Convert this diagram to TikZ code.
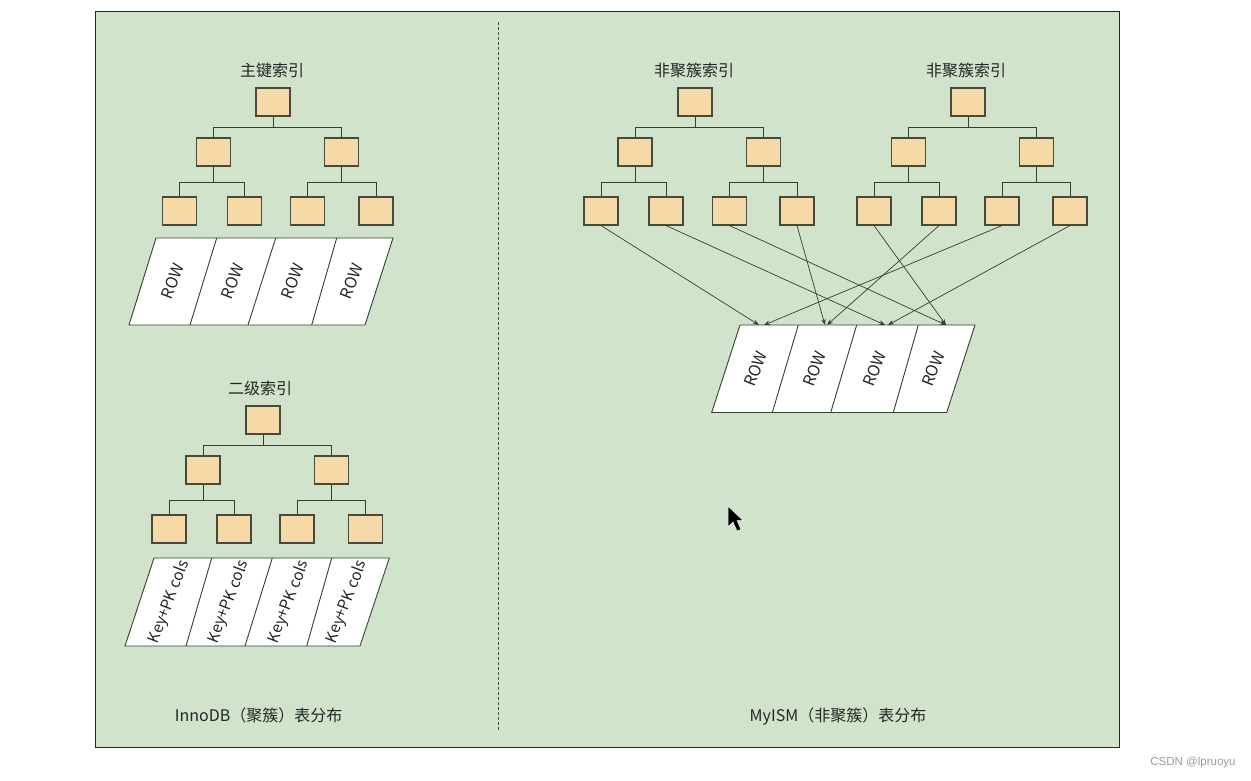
\documentclass[tikz,border=0pt]{standalone}
\usepackage{fontspec}
\newfontfamily\cjk{Noto Sans CJK SC}
\newfontfamily\wmfont{Liberation Sans}
\usetikzlibrary{arrows.meta}
\definecolor{bggreen}{HTML}{D1E3CA}
\definecolor{boxfill}{HTML}{F5DAA8}
\definecolor{boxline}{HTML}{4A4A3C}
\definecolor{lnk}{HTML}{33402F}
\definecolor{wmgray}{HTML}{9A9A9A}
\tikzset{
  bx/.style={draw=boxline, fill=boxfill, line width=1.1pt, minimum width=34pt, minimum height=28pt, inner sep=0pt},
  conn/.style={draw=lnk, line width=0.9pt},
  arr/.style={draw=lnk, line width=0.7pt, -{Stealth[length=6pt,width=4.5pt]}},
  cellline/.style={draw=lnk, fill=white, line width=0.9pt},
  ttl/.style={font=\cjk\fontsize{16}{18}\selectfont, text=black!85},
  rowtxt/.style={font=\cjk\fontsize{16}{18}\selectfont, rotate=69, text=black!85},
  keytxt/.style={font=\cjk\fontsize{15.5}{18}\selectfont, rotate=69, text=black!85},
  lbl/.style={font=\cjk\fontsize{16}{18}\selectfont, text=black!85},
  wm/.style={font=\wmfont\fontsize{11.5}{13}\selectfont, text=wmgray}
}
% #1 prefix, #2 root x, #3 root y, #4 #5 level-2 x, #6-#9 leaf x
\newcommand\mybptree[9]{%
  \node[bx] (#1r) at (#2,#3) {};
  \node[bx] (#1a) at (#4,#3+50) {};
  \node[bx] (#1b) at (#5,#3+50) {};
  \node[bx] (#1l1) at (#6,#3+109) {};
  \node[bx] (#1l2) at (#7,#3+109) {};
  \node[bx] (#1l3) at (#8,#3+109) {};
  \node[bx] (#1l4) at (#9,#3+109) {};
  \draw[conn] (#1r.south) -- (#2,#3+25) -| (#1a.north);
  \draw[conn] (#2,#3+25) -| (#1b.north);
  \draw[conn] (#1a.south) -- (#4,#3+80) -| (#1l1.north);
  \draw[conn] (#4,#3+80) -| (#1l2.north);
  \draw[conn] (#1b.south) -- (#5,#3+80) -| (#1l3.north);
  \draw[conn] (#5,#3+80) -| (#1l4.north);
}
\begin{document}
\begin{tikzpicture}[x=1pt,y=-1pt]
\useasboundingbox (0,0) rectangle (1251,780);
\fill[white] (0,0) rectangle (1251,780);
% frame
\draw[fill=bggreen, draw=black!85, line width=1pt] (95.5,11) rectangle (1119,747);
\draw[draw=black!70, line width=0.8pt, dash pattern=on 3pt off 2pt] (498,22) -- (498,731);

% ---------------- left: InnoDB ----------------
\node[ttl] (t1) at (272,70) {主键索引};
\mybptree{p}{273}{102}{213.5}{341.5}{179.5}{244.8}{307.5}{376}
\path[cellline] (156,238) -- (393,238) -- (365,325) -- (129,325) -- cycle;
\draw[conn] (216.7,238) -- (190,325);
\draw[conn] (275.7,238) -- (248,325);
\draw[conn] (336.7,238) -- (311.7,325);
\node[rowtxt] (pr1) at (172.9,281.5) {ROW};
\node[rowtxt] (pr2) at (232.6,281.5) {ROW};
\node[rowtxt] (pr3) at (292.9,281.5) {ROW};
\node[rowtxt] (pr4) at (351.6,281.5) {ROW};

\node[ttl] (t2) at (260,388) {二级索引};
\mybptree{s}{263}{420}{203}{331.5}{169}{234}{297}{365.3}
\path[cellline] (154,558) -- (389.3,558) -- (360,646) -- (125,646) -- cycle;
\draw[conn] (211.7,558) -- (186,646);
\draw[conn] (272.3,558) -- (245,646);
\draw[conn] (331.7,558) -- (306.7,646);
\node[keytxt] (sk1) at (169.2,602) {Key+PK cols};
\node[keytxt] (sk2) at (228.75,602) {Key+PK cols};
\node[keytxt] (sk3) at (288.9,602) {Key+PK cols};
\node[keytxt] (sk4) at (346.9,602) {Key+PK cols};

\node[lbl] (linno) at (258.7,715) {InnoDB（聚簇）表分布};

% ---------------- right: MyISM ----------------
\node[ttl] (t3) at (694,70) {非聚簇索引};
\node[ttl] (t4) at (966,70) {非聚簇索引};
\mybptree{m}{695}{102}{635}{763.5}{601}{666}{729.5}{797}
\mybptree{n}{968}{102}{908.4}{1036.3}{874}{939}{1002}{1070}

\path[cellline] (740,325) -- (975,325) -- (946.7,412.5) -- (711.7,412.5) -- cycle;
\draw[conn] (798.3,325) -- (772.3,412.5);
\draw[conn] (856.7,325) -- (830.7,412.5);
\draw[conn] (918.3,325) -- (893.3,412.5);
\node[rowtxt] (mr1) at (755.6,368.75) {ROW};
\node[rowtxt] (mr2) at (814.5,368.75) {ROW};
\node[rowtxt] (mr3) at (874.75,368.75) {ROW};
\node[rowtxt] (mr4) at (933.3,368.75) {ROW};

\coordinate (e1a) at (759,325);
\coordinate (e1b) at (764,325);
\coordinate (e2a) at (825,325);
\coordinate (e2b) at (827,325);
\coordinate (e3a) at (885,325);
\coordinate (e3b) at (888,325);
\coordinate (e4) at (946,325);

\draw[arr] (ml1.south) -- (e1a);
\draw[arr] (ml2.south) -- (e3a);
\draw[arr] (ml3.south) -- (e4);
\draw[arr] (ml4.south) -- (e2a);
\draw[arr] (nl1.south) -- (e4);
\draw[arr] (nl2.south) -- (e2b);
\draw[arr] (nl3.south) -- (e1b);
\draw[arr] (nl4.south) -- (e3b);

\node[lbl] (lmy) at (838,717) {MyISM（非聚簇）表分布};

% mouse pointer
\filldraw[fill=black, draw=white, line width=0.5pt] (728,506) -- (728,527) -- (733,522) -- (737,531) -- (741,529.5) -- (737,520.5) -- (743,520.5) -- cycle;

% watermark
\node[wm] (wmk) at (1193,763) {CSDN @lpruoyu};
\end{tikzpicture}
\end{document}
